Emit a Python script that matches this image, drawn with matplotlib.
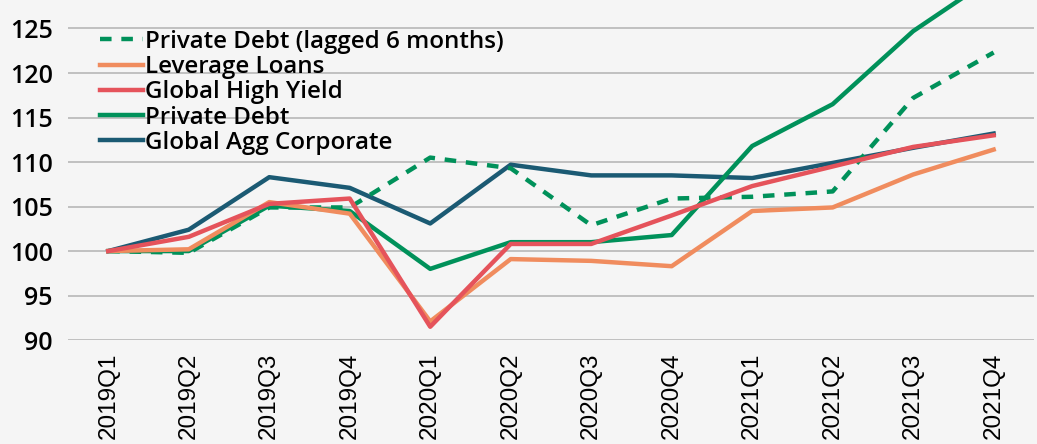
import numpy as np
import matplotlib
matplotlib.use('Agg')
import matplotlib.pyplot as plt

quarters = ['2019Q1', '2019Q2', '2019Q3', '2019Q4', '2020Q1', '2020Q2',
            '2020Q3', '2020Q4', '2021Q1', '2021Q2', '2021Q3', '2021Q4']

pd_lagged = [100, 99.8, 104.9, 104.9, 110.5, 109.3, 102.9, 105.9, 106.1, 106.7, 117.2, 122.3]
lev_loans = [100, 100.2, 105.5, 104.2, 92.1, 99.1, 98.9, 98.3, 104.5, 104.9, 108.6, 111.4]
global_hy = [100, 101.6, 105.3, 105.9, 91.5, 100.8, 100.8, 104.0, 107.3, 109.5, 111.7, 113.0]
priv_debt = [100, 100.0, 105.1, 104.5, 98.0, 101.0, 101.0, 101.8, 111.8, 116.5, 124.7, 130.8]
global_agg = [100, 102.4, 108.3, 107.1, 103.1, 109.7, 108.5, 108.5, 108.2, 109.9, 111.6, 113.2]

green = '#00915a'
orange = '#f08c5e'
red = '#e5535b'
blue = '#1b5a73'
bg = '#f5f5f5'

fig = plt.figure(figsize=(10.37, 4.44), dpi=100, facecolor=bg)
ax = fig.add_axes([0.0656, 0.234, 0.9314, 0.766], facecolor=bg)

x = np.arange(len(quarters))
lw = 3.2
ax.plot(x, pd_lagged, color=green, lw=lw, ls=(0, (2.6, 2.2)), label='Private Debt (lagged 6 months)', zorder=3)
ax.plot(x, lev_loans, color=orange, lw=lw, label='Leverage Loans', zorder=4)
ax.plot(x, global_hy, color=red, lw=lw, label='Global High Yield', zorder=5)
ax.plot(x, priv_debt, color=green, lw=lw, label='Private Debt', zorder=3)
ax.plot(x, global_agg, color=blue, lw=lw, label='Global Agg Corporate', zorder=2)

ax.set_xlim(-0.5, 11.5)
ax.set_ylim(90, 128.2)
ax.set_yticks(range(90, 126, 5))
ax.yaxis.grid(True, color='#c0c0c0', lw=1.4)
ax.set_axisbelow(True)
for s in ax.spines.values():
    s.set_visible(False)
ax.tick_params(length=0)
ax.tick_params(axis='y', pad=11)
ax.tick_params(axis='x', pad=9)
ax.set_xticks(x)
ax.set_xticklabels(quarters, rotation=90, fontsize=17.5, family='Liberation Sans')
for t in ax.get_yticklabels():
    t.set_fontsize(18)
    t.set_family('Open Sans')
    t.set_weight('semibold')

leg = ax.legend(loc='upper left', bbox_to_anchor=(0.033, 0.912), frameon=False,
                prop={'family': 'Open Sans', 'size': 17.4, 'weight': 'semibold'}, labelspacing=0.05,
                handlelength=1.78, handletextpad=0.08, borderpad=0, borderaxespad=0)

plt.savefig('out.png', dpi=100, facecolor=bg)
